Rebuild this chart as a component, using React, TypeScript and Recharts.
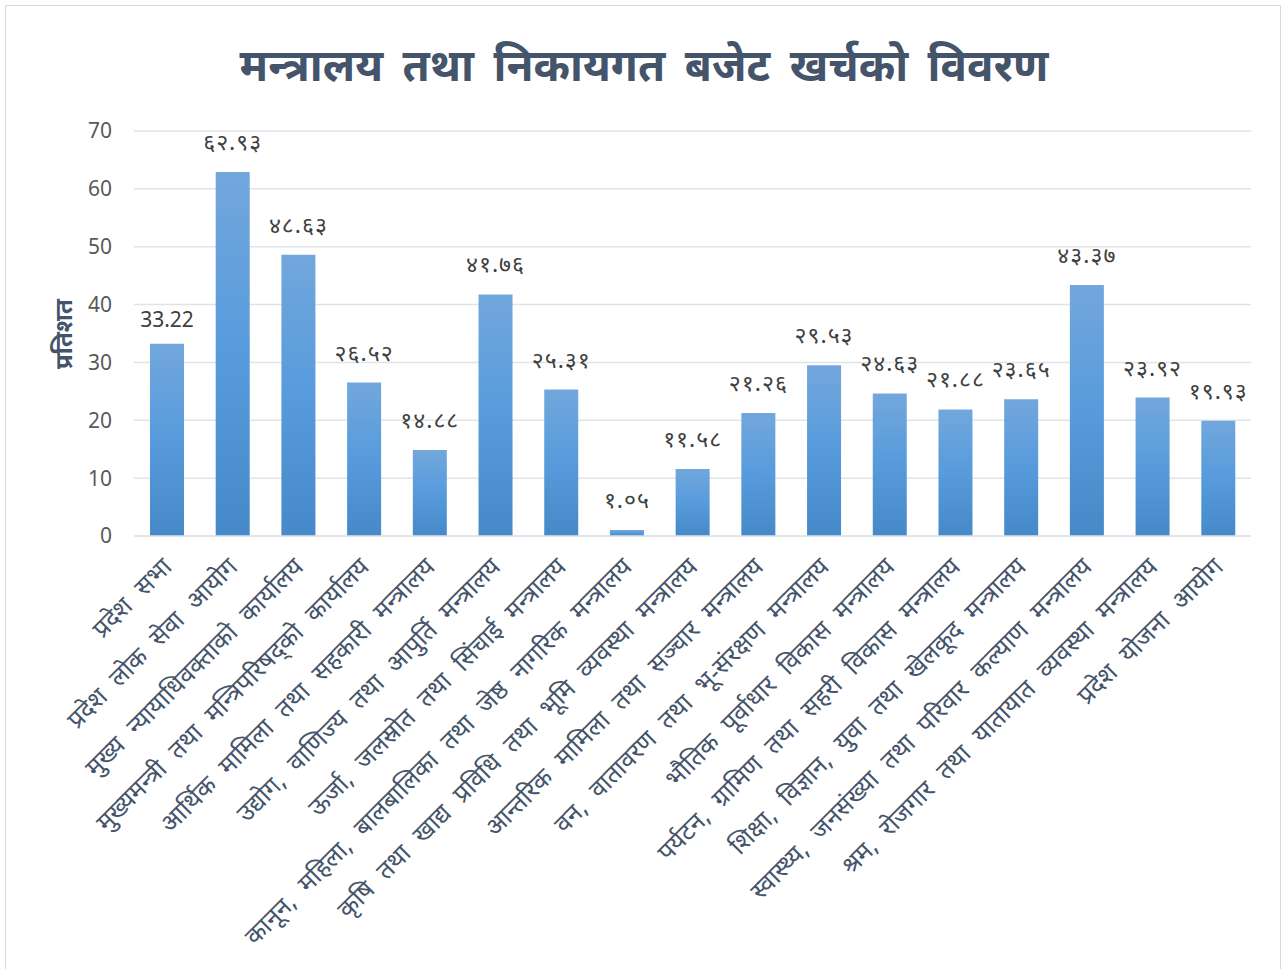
import React from "react";
import { Bar, BarChart, CartesianGrid, LabelList, XAxis, YAxis } from "recharts";

// मन्त्रालय / निकाय
const categories = [
  "प्रदेश सभा",
  "प्रदेश लोक सेवा आयोग",
  "मुख्य न्यायाधिवक्ताको कार्यालय",
  "मुख्यमन्त्री तथा मन्त्रिपरिषद्को कार्यालय",
  "आर्थिक मामिला तथा सहकारी मन्त्रालय",
  "उद्योग, वाणिज्य तथा आपुर्ति मन्त्रालय",
  "ऊर्जा, जलस्रोत तथा सिंचाई मन्त्रालय",
  "कानून, महिला, बालबालिका तथा जेष्ठ नागरिक मन्त्रालय",
  "कृषि तथा खाद्य प्रविधि तथा भूमि व्यवस्था मन्त्रालय",
  "आन्तरिक मामिला तथा सञ्चार मन्त्रालय",
  "वन, वातावरण तथा भू-संरक्षण मन्त्रालय",
  "भौतिक पूर्वाधार विकास मन्त्रालय",
  "पर्यटन, ग्रामिण तथा सहरी विकास मन्त्रालय",
  "शिक्षा, विज्ञान, युवा तथा खेलकूद मन्त्रालय",
  "स्वास्थ्य, जनसंख्या तथा परिवार कल्याण मन्त्रालय",
  "श्रम, रोजगार तथा यातायात व्यवस्था मन्त्रालय",
  "प्रदेश योजना आयोग",
];

// खर्च प्रतिशत
const values = [
  33.22, 62.93, 48.63, 26.52, 14.88, 41.76, 25.31, 1.05, 11.58, 21.26, 29.53,
  24.63, 21.88, 23.65, 43.37, 23.92, 19.93,
];

// labels as printed on the chart (first one in latin digits)
const valueLabels = [
  "33.22", "६२.९३", "४८.६३", "२६.५२", "१४.८८", "४१.७६", "२५.३१", "१.०५",
  "११.५८", "२१.२६", "२९.५३", "२४.६३", "२१.८८", "२३.६५", "४३.३७", "२३.९२",
  "१९.९३",
];

const yTicks = [0, 10, 20, 30, 40, 50, 60, 70];

const FONT = "'Noto Sans', 'Noto Sans Devanagari', sans-serif";
const TEXT = "#44546A";

const data = categories.map((name, i) => ({
  name,
  value: values[i],
  label: valueLabels[i],
}));

function XTick(props: any) {
  const { x, y, payload } = props;
  return (
    <g transform={`translate(${x - 2},${y + 16})`}>
      <text
        x={0}
        y={0}
        dy={12}
        textAnchor="end"
        transform="rotate(-45)"
        fill={TEXT}
        fontSize={25}
        wordSpacing={8}
        fontFamily={FONT}
      >
        {payload.value}
      </text>
    </g>
  );
}

function ValueLabel(props: any) {
  const { x, y, width, value } = props;
  const latin = /^[0-9.]+$/.test(String(value));
  return (
    <text
      x={x + width / 2}
      y={y - (latin ? 17 : 22)}
      textAnchor="middle"
      fill="#404040"
      fontSize={latin ? 21 : 23}
      letterSpacing={latin ? 0 : 1}
      fontFamily={FONT}
    >
      {value}
    </text>
  );
}

function YLabel() {
  return (
    <text
      x={62}
      y={334}
      transform="rotate(-90 62 334)"
      textAnchor="middle"
      dominantBaseline="central"
      fill={TEXT}
      fontSize={24}
      fontWeight={700}
      fontFamily={FONT}
    >
      प्रतिशत
    </text>
  );
}

export default function App() {
  return (
    <div style={{ position: "absolute", left: 0, top: 0, width: 1288, height: 969, background: "#fff", overflow: "hidden" }}>
      <div
        style={{
          position: "absolute",
          left: 5,
          top: 5,
          width: 1276,
          height: 990,
          border: "1.5px solid #D9D9D9",
          boxSizing: "border-box",
        }}
      />
      <div
        style={{
          position: "absolute",
          left: 0,
          top: 34,
          width: 1288,
          textAlign: "center",
          fontFamily: FONT,
          fontWeight: 700,
          fontSize: 44,
          color: TEXT,
          wordSpacing: 8,
        }}
      >
        मन्त्रालय तथा निकायगत बजेट खर्चको विवरण
      </div>
      <BarChart
        width={1288}
        height={969}
        data={data}
        margin={{ top: 131, right: 37, bottom: 0, left: 0 }}
        barSize={34}
        style={{ position: "absolute", left: 0, top: 0 }}
      >
        <defs>
          <linearGradient id="barFill" x1="0" y1="0" x2="0" y2="1">
            <stop offset="0%" stopColor="#72A7DC" />
            <stop offset="50%" stopColor="#579BDC" />
            <stop offset="100%" stopColor="#4589C8" />
          </linearGradient>
        </defs>
        <CartesianGrid vertical={false} stroke="#E0E3E8" strokeWidth={1.5} />
        <XAxis
          dataKey="name"
          interval={0}
          height={433}
          tick={<XTick />}
          tickLine={false}
          axisLine={{ stroke: "#E0E3E8", strokeWidth: 1.5 }}
        />
        <YAxis
          domain={[0, 70]}
          ticks={yTicks}
          width={134}
          tickSize={0}
          tickMargin={22}
          tickLine={false}
          axisLine={false}
          tick={{ fill: "#595959", fontSize: 21, fontFamily: FONT }}
          label={<YLabel />}
        />
        <Bar dataKey="value" fill="url(#barFill)" isAnimationActive={false}>
          <LabelList dataKey="label" content={<ValueLabel />} />
        </Bar>
      </BarChart>
    </div>
  );
}
